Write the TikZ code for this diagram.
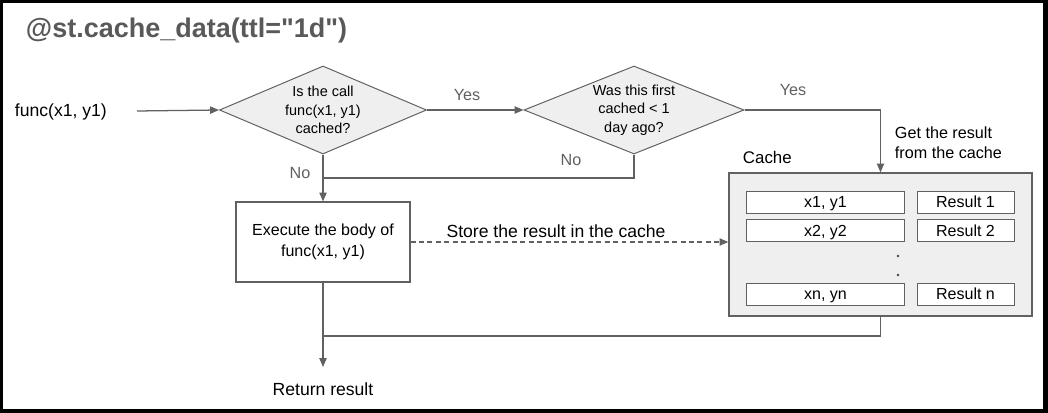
\documentclass[tikz,border=0pt]{standalone}
\usepackage{fontspec}
\setmainfont{Liberation Sans}[Ligatures=TeXOff]
\usetikzlibrary{shapes.geometric,arrows.meta,positioning}
\definecolor{linegray}{HTML}{616161}
\definecolor{fillgray}{HTML}{EFEFEF}
\definecolor{titlegray}{HTML}{595959}

\begin{document}
\begin{tikzpicture}[x=0.025cm,y=-0.025cm,
	line/.style={draw=linegray,line width=0.9pt},
	arr/.style={line,-{Triangle[length=2.2mm,width=1.8mm]}},
	decision/.style={diamond,draw=linegray,line width=0.7pt,fill=fillgray,inner sep=0pt,minimum height=2.2cm},
	dtext/.style={align=center,font=\fontsize{10.3}{13}\selectfont},
	proc/.style={rectangle,draw=linegray,line width=0.8pt,fill=white,align=center,font=\fontsize{11.4}{15}\selectfont,minimum width=4.35cm,minimum height=2cm},
	cell/.style={rectangle,draw=linegray,line width=0.7pt,fill=white,font=\fontsize{11.4}{13}\selectfont,minimum height=0.55cm,inner sep=0pt,text height=10pt,text depth=2pt},
	lbl/.style={text=linegray,font=\fontsize{11.5}{13}\selectfont},
	txt/.style={font=\fontsize{12.5}{15}\selectfont}]

	% frame
	\fill[black] (0,0) rectangle (1048,413);
	\fill[white] (3,3) rectangle (1043,409);

	\node[anchor=west,text=titlegray,font=\fontsize{19.2}{22}\selectfont\bfseries] (title) at (21,31) {@st.cache\_data(ttl="1d")};

	% decisions
	\node[txt,anchor=west] (call) at (10,112) {func(x1, y1)};
	\coordinate (in) at (137,111);
	\node[decision,minimum width=5.175cm] (q1) at (323,110) {};
	\node[dtext] (q1t) at (q1) {Is the call\\func(x1, y1)\\cached?};
	\node[decision,minimum width=5.5cm] (q2) at (634,110) {};
	\node[dtext] (q2t) at (q2) {Was this first\\cached < 1\\day ago?};

	\node[proc] (exec) at (323,242) {Execute the body of\\func(x1, y1)};

	% cache
	\node[rectangle,draw=linegray,line width=0.8pt,fill=fillgray,minimum width=7.575cm,minimum height=3.575cm] (cache) at (880.5,244.5) {};
	\node[txt,anchor=west,font=\fontsize{12}{14}\selectfont] (cachet) at (738,157) {Cache};
	\node[cell,minimum width=3.925cm] (k1) at (825.5,202) {x1, y1};
	\node[cell,minimum width=2.425cm] (r1) at (965.5,202) {Result 1};
	\node[cell,minimum width=3.925cm] (k2) at (825.5,230.5) {x2, y2};
	\node[cell,minimum width=2.425cm] (r2) at (965.5,230.5) {Result 2};
	\node[cell,minimum width=3.925cm] (kn) at (825.5,294) {xn, yn};
	\node[cell,minimum width=2.425cm] (rn) at (965.5,294) {Result n};
	\fill[black!75] (898,256) circle (1.3);
	\fill[black!75] (898,275) circle (1.3);

	\coordinate (j1) at (323,178);
	\coordinate (j2) at (323,336);
	\coordinate (out) at (323,367);
	\node[txt] (ret) at (323,389) {Return result};

	% connectors
	\draw[arr] (in) -- (q1.west);
	\draw[arr] (q1.east) -- (q2.west);
	\draw[arr] (q1.south) -- (exec.north);
	\draw[line] (q2.south) |- (j1);
	\draw[arr] (q2.east) -| (cache.north);
	\draw[arr,dash pattern=on 3.5pt off 2.5pt] (exec.east) -- (exec.east -| cache.west);
	\draw[line] (cache.south) |- (j2);
	\draw[arr] (exec.south) -- (out);

	\node[lbl] (yes1) at (467,95) {Yes};
	\node[lbl] (yes2) at (793,90) {Yes};
	\node[lbl] (no1) at (300,173) {No};
	\node[lbl] (no2) at (571,160) {No};
	\node[txt] (store) at (556,231) {Store the result in the cache};
	\node[anchor=west,align=left,font=\fontsize{11.5}{14}\selectfont] (get) at (890,143) {Get the result\\from the cache};

\end{tikzpicture}
\end{document}
